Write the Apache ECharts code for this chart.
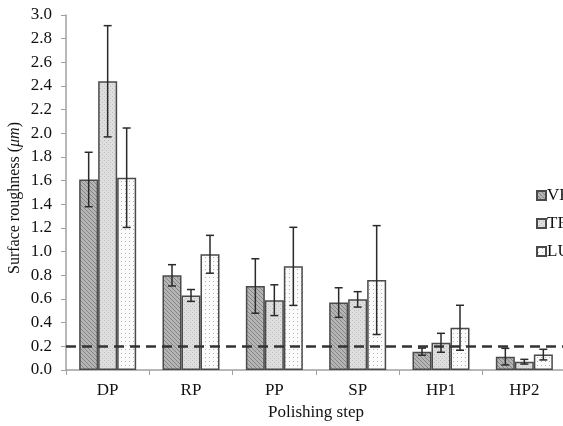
<!DOCTYPE html>
<html><head><meta charset="utf-8">
<script src="https://cdn.jsdelivr.net/npm/echarts@6/dist/echarts.min.js"></script>
<style>html,body{margin:0;padding:0;background:#fff}#c{width:563px;height:426px}</style>
</head><body><div id="c"></div>
<script>
const categories = ['DP', 'RP', 'PP', 'SP', 'HP1', 'HP2'];
const seriesNames = ['VE', 'TR', 'LU'];
const veValues = [1.61, 0.80, 0.71, 0.57, 0.155, 0.113];
const veErrors = [0.23, 0.09, 0.23, 0.125, 0.03, 0.07];
const trValues = [2.44, 0.63, 0.59, 0.597, 0.23, 0.07];
const trErrors = [0.47, 0.05, 0.13, 0.065, 0.08, 0.02];
const luValues = [1.625, 0.978, 0.876, 0.76, 0.357, 0.13];
const luErrors = [0.42, 0.16, 0.33, 0.46, 0.19, 0.045];
const thresholdValue = 0.2;
const yTicks = [0, 0.2, 0.4, 0.6, 0.8, 1.0, 1.2, 1.4, 1.6, 1.8, 2.0, 2.2, 2.4, 2.6, 2.8, 3.0];

function makePattern(kind) {
  const c = document.createElement('canvas');
  c.width = 4; c.height = 4;
  const g = c.getContext('2d');
  if (kind === 0) {
    g.fillStyle = '#b5b5b5'; g.fillRect(0, 0, 4, 4);
    g.fillStyle = '#858585';
    for (let i = 0; i < 4; i++) g.fillRect(i, i, 1, 1);
  } else if (kind === 1) {
    g.fillStyle = '#dedede'; g.fillRect(0, 0, 4, 4);
    g.fillStyle = '#bdbdbd';
    g.fillRect(0, 0, 1, 1); g.fillRect(2, 2, 1, 1);
  } else {
    g.fillStyle = '#fbfbfb'; g.fillRect(0, 0, 4, 4);
    g.fillStyle = '#b5b5b5';
    g.fillRect(1, 1, 1, 1);
  }
  return { image: c, repeat: 'repeat' };
}

const values = [veValues, trValues, luValues];
const errors = [veErrors, trErrors, luErrors];
const BAR_W = 19;

const chart = echarts.init(document.getElementById('c'), null, { renderer: 'canvas' });
const FONT = '"Liberation Serif", "DejaVu Serif", serif';

const series = [];
seriesNames.forEach((name, s) => {
  series.push({
    name: name,
    type: 'bar',
    data: values[s],
    barWidth: BAR_W,
    barGap: '0%',
    itemStyle: { color: makePattern(s), borderColor: '#4a4a4a', borderWidth: 1.5 },
    z: 2,
    markLine: s === 0 ? {
      silent: true, symbol: ['none', 'none'], label: { show: false },
      lineStyle: { color: '#333', type: [10, 6], width: 2.5 },
      data: [{ yAxis: thresholdValue }]
    } : undefined
  });
});
seriesNames.forEach((name, s) => {
  series.push({
    type: 'custom',
    name: name + '_err',
    z: 5,
    data: values[s].map((v, i) => [i, v - errors[s][i], v + errors[s][i]]),
    encode: { x: 0, y: [1, 2] },
    renderItem: function (params, api) {
      const lo = api.coord([api.value(0), api.value(1)]);
      const hi = api.coord([api.value(0), api.value(2)]);
      const x = lo[0] + (s - 1) * BAR_W;
      const cap = 4;
      const st = { stroke: '#2a2a2a', lineWidth: 1.5 };
      return {
        type: 'group',
        children: [
          { type: 'line', shape: { x1: x, y1: lo[1], x2: x, y2: hi[1] }, style: st },
          { type: 'line', shape: { x1: x - cap, y1: lo[1], x2: x + cap, y2: lo[1] }, style: st },
          { type: 'line', shape: { x1: x - cap, y1: hi[1], x2: x + cap, y2: hi[1] }, style: st }
        ]
      };
    }
  });
});

chart.setOption({
  animation: false,
  backgroundColor: '#fff',
  grid: { left: 66, top: 15, width: 500, height: 355, outerBoundsMode: 'none', containLabel: false },
  legend: {
    data: seriesNames,
    orient: 'vertical',
    left: 531, top: 182,
    itemWidth: 9, itemHeight: 9, itemGap: 11,
    icon: 'rect',
    textStyle: { fontFamily: FONT, fontSize: 17, color: '#111', padding: [0, 0, 0, -4] }
  },
  graphic: [{
    type: 'text',
    x: 15, y: 198,
    rotation: Math.PI / 2,
    style: {
      text: 'Surface roughness ({i|μm})',
      fontFamily: FONT, fontSize: 16, fill: '#111',
      align: 'center', verticalAlign: 'middle',
      rich: { i: { fontFamily: FONT, fontSize: 16, fontStyle: 'italic', fill: '#111' } }
    }
  }],
  xAxis: {
    type: 'category',
    data: categories,
    name: 'Polishing step',
    nameLocation: 'middle',
    nameGap: 34,
    nameTextStyle: { fontFamily: FONT, fontSize: 17, color: '#111' },
    axisLine: { lineStyle: { color: '#a0a0a0', width: 1.5 } },
    axisTick: { show: true, length: 5, lineStyle: { color: '#a0a0a0' } },
    axisLabel: { fontFamily: FONT, fontSize: 17, color: '#111', margin: 12 }
  },
  yAxis: {
    type: 'value',
    min: yTicks[0], max: yTicks[yTicks.length - 1], interval: 0.2,
    axisLine: { show: true, lineStyle: { color: '#a0a0a0', width: 1.5 } },
    axisTick: { show: true, length: 5, lineStyle: { color: '#a0a0a0' } },
    splitLine: { show: false },
    axisLabel: { fontFamily: FONT, fontSize: 17, color: '#111', margin: 14,
      formatter: v => v.toFixed(1) }
  },
  series: series
});
</script></body></html>
